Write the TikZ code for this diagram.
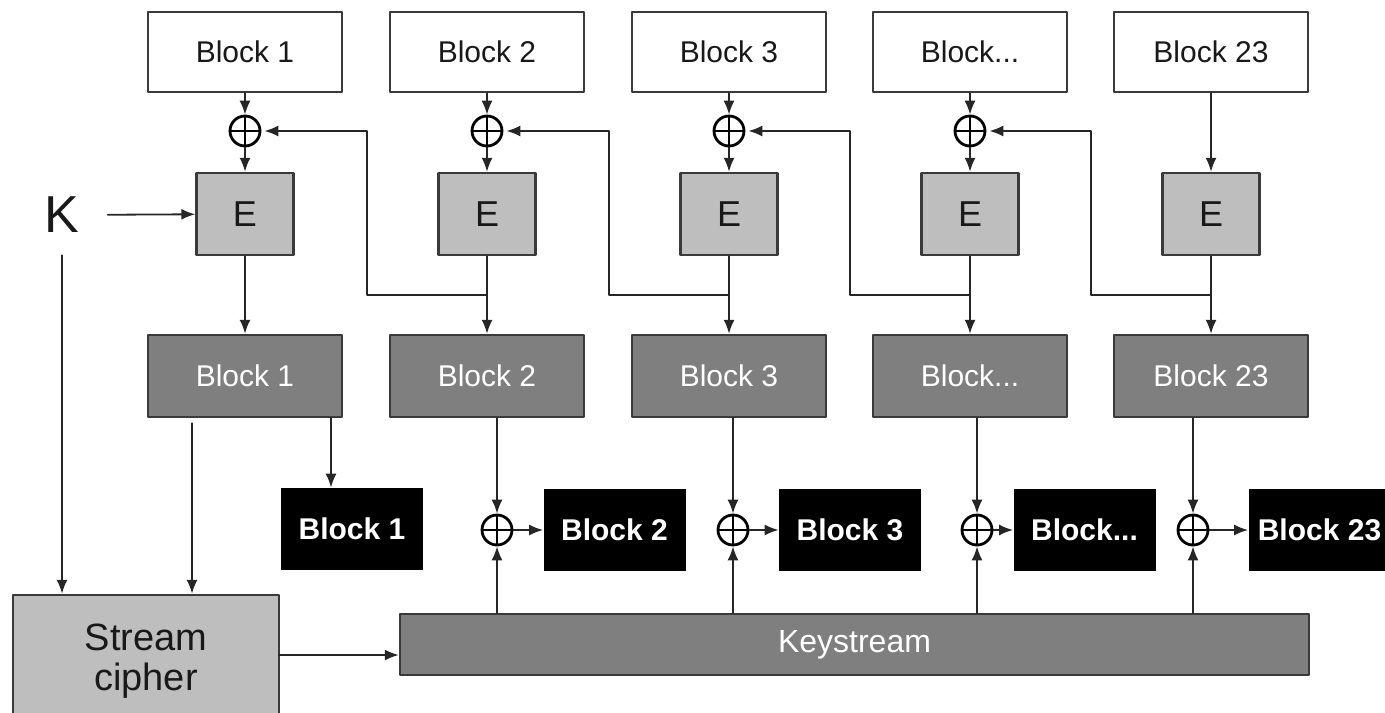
\documentclass[tikz,border=0pt]{standalone}
\usepackage{fontspec}
\setmainfont{Liberation Sans}
\usetikzlibrary{arrows.meta}

\definecolor{frame}{HTML}{3a3a3a}
\definecolor{cipherbox}{HTML}{bebebe}
\definecolor{midbox}{HTML}{7f7f7f}
\definecolor{wire}{HTML}{262626}

\begin{document}
\begin{tikzpicture}[
  x=0.5pt, y=-0.5pt,
  line cap=round, line join=round,
  every node/.style={font=\fontsize{15}{18}\selectfont, inner sep=0pt},
  plainblk/.style={draw=frame, line width=1.2pt, fill=white, text=black!90, minimum width=97pt, minimum height=40pt},
  encblk/.style={draw=frame, line width=1.2pt, fill=cipherbox, text=black!90, minimum width=48.5pt, minimum height=41pt, font=\fontsize{18}{20}\selectfont},
  midblk/.style={draw=frame, line width=1.2pt, fill=midbox, text=white, minimum width=97pt, minimum height=41pt},
  outblk/.style={fill=black, text=white, minimum width=71pt, minimum height=41pt, font=\fontsize{15}{18}\selectfont\bfseries},
  xorop/.style={circle, draw=black, line width=1.4pt, minimum size=15pt,
    path picture={\draw[line width=1.3pt] (path picture bounding box.north) -- (path picture bounding box.south)
      (path picture bounding box.west) -- (path picture bounding box.east);}},
  wire/.style={draw=wire, line width=0.9pt},
  arr/.style={wire, -{Latex[length=7pt,width=5.5pt]}},
]
\useasboundingbox (0,0) rectangle (1385,712);

% plaintext blocks
\node[plainblk] (p1) at (245,52) {Block 1};
\node[plainblk] (p2) at (487,52) {Block 2};
\node[plainblk] (p3) at (729,52) {Block 3};
\node[plainblk] (p4) at (970,52) {Block...};
\node[plainblk] (p5) at (1211,52) {Block 23};

\node[xorop] (x1) at (245,131) {};
\node[xorop] (x2) at (487,131) {};
\node[xorop] (x3) at (729,131) {};
\node[xorop] (x4) at (970,131) {};

\node[encblk] (e1) at (245,214) {E};
\node[encblk] (e2) at (487,214) {E};
\node[encblk] (e3) at (729,214) {E};
\node[encblk] (e4) at (970,214) {E};
\node[encblk] (e5) at (1211,214) {E};

\node[midblk] (m1) at (245,376) {Block 1};
\node[midblk] (m2) at (487,376) {Block 2};
\node[midblk] (m3) at (729,376) {Block 3};
\node[midblk] (m4) at (970,376) {Block...};
\node[midblk] (m5) at (1211,376) {Block 23};

% output blocks
\node[outblk] (o1) at (352,529) {Block 1};
\node[outblk] (o2) at (614.5,530) {Block 2};
\node[outblk] (o3) at (850,530) {Block 3};
\node[outblk] (o4) at (1084.5,530) {Block...};
\node[outblk] (o5) at (1319.5,530) {Block 23};

\node[xorop] (y2) at (497,530) {};
\node[xorop] (y3) at (733,530) {};
\node[xorop] (y4) at (977,530) {};
\node[xorop] (y5) at (1193,530) {};

\node[midblk, minimum width=454.5pt, minimum height=30.5pt, font=\fontsize{16}{18}\selectfont] (ks) at (854.5,644.5) {Keystream};
\node[encblk, minimum width=133pt, minimum height=66.5pt, align=center, font=\fontsize{19}{20}\selectfont] (sc) at (146,661.5) {Stream\\cipher};
\node[font=\fontsize{26}{28}\selectfont, text=black!90] (k) at (62,215) {K};

\coordinate (j2) at (487,295);
\coordinate (j3) at (729,295);
\coordinate (j4) at (970,295);
\coordinate (j5) at (1211,295);
\coordinate (scout) at (279,655);

% top half
\draw[arr] (p1) -- (x1);
\draw[arr] (p2) -- (x2);
\draw[arr] (p3) -- (x3);
\draw[arr] (p4) -- (x4);
\draw[arr] (x1) -- (e1);
\draw[arr] (x2) -- (e2);
\draw[arr] (x3) -- (e3);
\draw[arr] (x4) -- (e4);
\draw[arr] (p5) -- (e5);
\draw[arr] (e1) -- (m1);
\draw[arr] (e2) -- (m2);
\draw[arr] (e3) -- (m3);
\draw[arr] (e4) -- (m4);
\draw[arr] (e5) -- (m5);
\draw[arr, shorten >=1.5pt] (j2) -- ++(-120,0) |- (x1.east);
\draw[arr, shorten >=1.5pt] (j3) -- ++(-120,0) |- (x2.east);
\draw[arr, shorten >=1.5pt] (j4) -- ++(-120,0) |- (x3.east);
\draw[arr, shorten >=1.5pt] (j5) -- ++(-120,0) |- (x4.east);
\draw[arr, shorten <=14pt] (k) -- (e1);

% bottom half
\draw[arr] ([xshift=43pt]m1.south) -- ([xshift=43pt]m1.south |- o1.north);
\draw[arr] (m2.south -| y2) -- (y2);
\draw[arr] (m3.south -| y3) -- (y3);
\draw[arr] (m4.south -| y4) -- (y4);
\draw[arr] (m5.south -| y5) -- (y5);
\draw[arr] (ks.north -| y2) -- (y2);
\draw[arr] (ks.north -| y3) -- (y3);
\draw[arr] (ks.north -| y4) -- (y4);
\draw[arr] (ks.north -| y5) -- (y5);
\draw[arr] (y2) -- (o2);
\draw[arr] (y3) -- (o3);
\draw[arr] (y4) -- (o4);
\draw[arr] (y5) -- (o5);
\draw[arr, shorten <=11pt] (k) -- (k |- sc.north);
\draw[arr, shorten <=2.5pt] ([xshift=-26.5pt]m1.south) -- ([xshift=-26.5pt]m1.south |- sc.north);
\draw[arr] (scout) -- (scout -| ks.west);
\end{tikzpicture}
\end{document}
